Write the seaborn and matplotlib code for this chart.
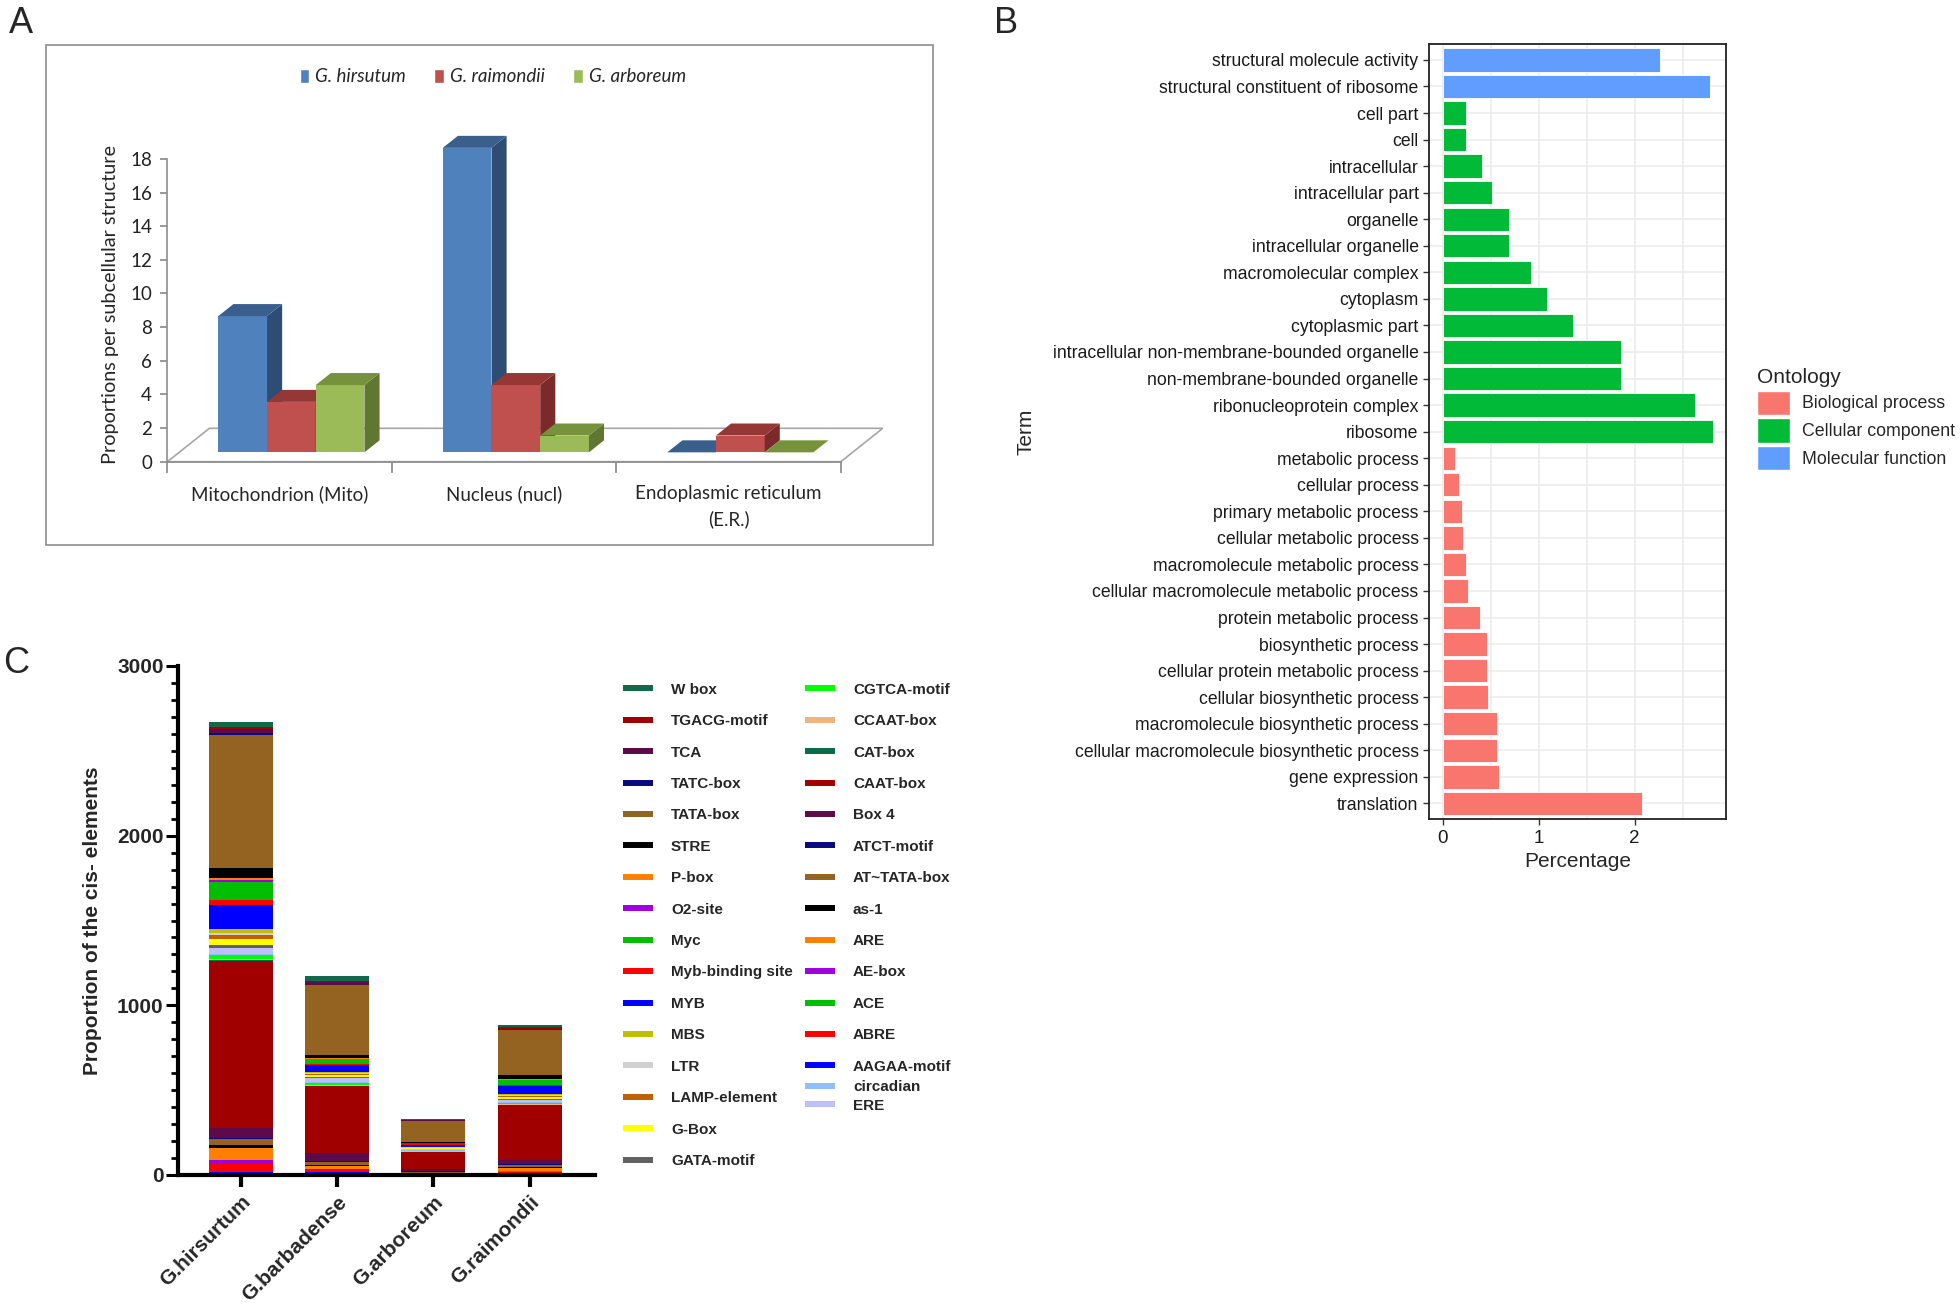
import numpy as np
import pandas as pd
import matplotlib
matplotlib.use('Agg')
import matplotlib.pyplot as plt
import seaborn as sns
from matplotlib.patches import Polygon, Patch, Rectangle
from matplotlib.lines import Line2D
from matplotlib.ticker import MultipleLocator

# ---------------- panel A: subcellular localisation ----------------
loc_names = ['Mitochondrion (Mito)', 'Nucleus (nucl)', 'Endoplasmic reticulum\n(E.R.)']
loc_species = ['G. hirsutum', 'G. raimondii', 'G. arboreum']
loc_hirsutum = [8.1, 18.1, 0.0]
loc_raimondii = [3.0, 4.0, 1.0]
loc_arboreum = [4.0, 1.0, 0.0]

# ---------------- panel B: GO terms ----------------
go_terms = [
    'structural molecule activity', 'structural constituent of ribosome',
    'cell part', 'cell', 'intracellular', 'intracellular part', 'organelle',
    'intracellular organelle', 'macromolecular complex', 'cytoplasm',
    'cytoplasmic part', 'intracellular non-membrane-bounded organelle',
    'non-membrane-bounded organelle', 'ribonucleoprotein complex', 'ribosome',
    'metabolic process', 'cellular process', 'primary metabolic process',
    'cellular metabolic process', 'macromolecule metabolic process',
    'cellular macromolecule metabolic process', 'protein metabolic process',
    'biosynthetic process', 'cellular protein metabolic process',
    'cellular biosynthetic process', 'macromolecule biosynthetic process',
    'cellular macromolecule biosynthetic process', 'gene expression', 'translation']
go_pct = [2.26, 2.78, 0.24, 0.24, 0.41, 0.51, 0.69, 0.69, 0.92, 1.09, 1.36, 1.86,
          1.86, 2.63, 2.81, 0.13, 0.17, 0.20, 0.21, 0.24, 0.27, 0.39, 0.46, 0.46,
          0.47, 0.57, 0.57, 0.59, 2.08]
go_ontology = ['Molecular function'] * 2 + ['Cellular component'] * 13 + ['Biological process'] * 14
go_levels = ['Biological process', 'Cellular component', 'Molecular function']
go_colors = ['#F8766D', '#00BA38', '#619CFF']

# ---------------- panel C: cis-elements ----------------
cis_species = ['G.hirsurtum', 'G.barbadense', 'G.arboreum', 'G.raimondii']
cis_elements = ['W box', 'TGACG-motif', 'TCA', 'TATC-box', 'TATA-box', 'STRE', 'P-box',
                'O2-site', 'Myc', 'Myb-binding site', 'MYB', 'MBS', 'LTR', 'LAMP-element',
                'G-Box', 'GATA-motif', 'CGTCA-motif', 'CCAAT-box', 'CAT-box', 'CAAT-box',
                'Box 4', 'ATCT-motif', 'AT~TATA-box', 'as-1', 'ARE', 'AE-box', 'ACE',
                'ABRE', 'AAGAA-motif', 'circadian', 'ERE']
cis_colors = ['#12694A', '#A00000', '#5C0A4A', '#0A0A80', '#946221', '#000000', '#FF8000',
              '#A000E0', '#00BF00', '#FF0000', '#0000FF', '#BFBF00', '#D0D0D0', '#C06000',
              '#FFFF00', '#606060', '#00FF00', '#F0B480', '#0B6B47', '#A00000',
              '#5C0A4A', '#0A0A80', '#946221', '#000000', '#FF8000', '#A000E0', '#00BF00',
              '#FF0000', '#0000FF', '#8CC0F8', '#C0C0F8']
cis_hirsutum = [29, 16, 24, 10, 782, 63, 8, 12, 108, 29, 143, 24, 12, 20, 39, 18, 20, 7, 7,
                982, 57, 10, 32, 20, 70, 22, 5, 42, 20, 6, 35]
cis_barbadense = [25, 10, 14, 3, 412, 16, 5, 5, 24, 10, 37, 6, 8, 6, 15, 5, 15, 4, 4,
                  395, 42, 7, 20, 3, 20, 5, 3, 12, 15, 5, 20]
cis_arboreum = [3, 3, 4, 2, 124, 5, 1, 1, 3, 3, 14, 2, 4, 2, 4, 2, 4, 1, 1,
                99, 17, 2, 5, 2, 6, 1, 1, 2, 2, 2, 6]
cis_raimondii = [10, 12, 8, 3, 265, 22, 4, 3, 30, 5, 45, 8, 5, 5, 12, 4, 7, 3, 3,
                 320, 25, 5, 12, 7, 17, 4, 3, 10, 8, 6, 14]
# stacking order, bottom to top
cis_stack = ['AAGAA-motif', 'ABRE', 'ACE', 'AE-box', 'ARE', 'as-1', 'AT~TATA-box',
             'ATCT-motif', 'Box 4', 'CAAT-box', 'CAT-box', 'CCAAT-box', 'CGTCA-motif',
             'circadian', 'ERE', 'GATA-motif', 'G-Box', 'LAMP-element', 'LTR', 'MBS',
             'MYB', 'Myb-binding site', 'Myc', 'O2-site', 'P-box', 'STRE', 'TATA-box',
             'TATC-box', 'TCA', 'TGACG-motif', 'W box']

sns.set_theme(style='white')
plt.rcParams['font.family'] = ['Liberation Sans', 'DejaVu Sans']

W, H = 1960, 1308
fig = plt.figure(figsize=(W / 100, H / 100), dpi=100)


def fx(px):
    return px / W


def fy(py):
    return 1 - py / H


def box(x0, y0, x1, y1):
    return [fx(x0), fy(y1), fx(x1) - fx(x0), fy(y0) - fy(y1)]


# ======================= panel A =======================
fontA = ['Lato', 'Liberation Sans']
fig.add_artist(Rectangle((fx(46), fy(545)), fx(933) - fx(46), fy(45) - fy(545),
                         transform=fig.transFigure, fill=False, ec='#8C8C8C', lw=1.2))
axA = fig.add_axes(box(167.4, 158.9, 840.8, 461.7))
axA.set_facecolor('none')
axA.set_xlim(-0.5, 2.5)
axA.set_ylim(0, 18)

DX, DY = 0.187, 1.985     # depth offset of the 3D floor (data units)
D0, D1 = 0.28, 0.64        # front / back depth of the columns
bw = 0.217
shades = [('#4F81BD', '#3A5F8C', '#2E4D75'),
          ('#C0504D', '#953735', '#7A2B29'),
          ('#9BBB59', '#76923C', '#5F7730')]

floor = Polygon([(-0.5, 0), (2.5, 0), (2.5 + DX, DY), (-0.5 + DX, DY)],
                closed=True, fc='white', ec='#A6A6A6', lw=1.2, zorder=1, clip_on=False)
axA.add_patch(floor)

xcat = np.arange(len(loc_names))
dd = D1 - D0
for i, vals in enumerate([loc_hirsutum, loc_raimondii, loc_arboreum]):
    front, top, side = shades[i]
    x0 = xcat - 1.5 * bw + i * bw + D0 * DX
    yb = D0 * DY
    axA.bar(x0, vals, width=bw, bottom=yb, align='edge', color=front, lw=0,
            zorder=3 + i, clip_on=False)
    for xl, v in zip(x0, vals):
        xr = xl + bw
        yt = yb + v
        axA.add_patch(Polygon([(xr, yb), (xr + dd * DX, yb + dd * DY),
                               (xr + dd * DX, yt + dd * DY), (xr, yt)],
                              closed=True, fc=side, lw=0, zorder=3 + i, clip_on=False))
        axA.add_patch(Polygon([(xl, yt), (xr, yt), (xr + dd * DX, yt + dd * DY),
                               (xl + dd * DX, yt + dd * DY)],
                              closed=True, fc=top, lw=0, zorder=3 + i, clip_on=False))

for s in ['top', 'right']:
    axA.spines[s].set_visible(False)
for s in ['left', 'bottom']:
    axA.spines[s].set_color('#8C8C8C')
    axA.spines[s].set_linewidth(1.2)
axA.set_yticks(np.arange(0, 19, 2))
axA.set_xticks([-0.5, 0.5, 1.5, 2.5])
axA.set_xticklabels([])
axA.set_xticks(xcat, minor=True)
axA.set_xticklabels(loc_names, minor=True, family=fontA, fontsize=13.5, linespacing=1.5)
axA.tick_params(axis='y', length=5, color='#8C8C8C', labelsize=13.5, pad=6,
                labelcolor='#222222', left=True)
for t in axA.get_yticklabels():
    t.set_family(fontA)
axA.tick_params(axis='x', which='major', length=8, color='#8C8C8C', bottom=True)
axA.tick_params(axis='x', which='minor', length=0, pad=17)
axA.set_ylabel('Proportions per subcellular structure', family=fontA, fontsize=14.3)
axA.yaxis.set_label_coords(-0.072, 0.52)

legA = fig.legend([Patch(fc=s[0]) for s in shades], loc_species, loc='center',
                  bbox_to_anchor=(fx(493), fy(77)), ncol=3, frameon=False,
                  prop=dict(family=fontA, style='italic', size=13.5),
                  handlelength=0.5, handleheight=0.8, handletextpad=0.35,
                  columnspacing=1.5)

# ======================= panel B =======================
axB = fig.add_axes(box(1429, 44, 1726, 819.3))
dfB = pd.DataFrame({'term': go_terms, 'pct': go_pct, 'ontology': go_ontology})
sns.barplot(data=dfB, x='pct', y='term', hue='ontology', order=go_terms,
            hue_order=go_levels, palette=dict(zip(go_levels, go_colors)),
            dodge=False, width=0.88, orient='h', errorbar=None, legend=False,
            saturation=1, edgecolor='white', linewidth=0.6, ax=axB)
mx = max(go_pct)
axB.set_xlim(-0.05 * mx, 1.05 * mx)
axB.set_ylim(len(go_terms) - 1 + 0.6, -0.6)
axB.set_xticks([0, 1, 2])
axB.set_xticks([0.5, 1.5, 2.5], minor=True)
axB.set_axisbelow(True)
axB.grid(True, which='major', color='#EBEBEB', lw=1.1)
axB.grid(True, which='minor', axis='x', color='#EBEBEB', lw=1.1)
for s in axB.spines.values():
    s.set_color('#222222')
    s.set_linewidth(1.3)
axB.tick_params(axis='both', which='major', length=4.5, width=1, color='#333333',
                labelcolor='#1a1a1a', left=True, bottom=True)
axB.tick_params(axis='y', labelsize=12.7, pad=3)
axB.tick_params(axis='x', labelsize=13.5, pad=3)
axB.tick_params(which='minor', length=0)
axB.set_xlabel('Percentage', fontsize=15, labelpad=4)
axB.set_ylabel('Term', fontsize=15)
axB.yaxis.set_label_coords((1035 - 1429) / 297, 0.5)

fig.legend([Patch(fc=c, ec='white') for c in go_colors], go_levels, title='Ontology',
           loc='upper left', bbox_to_anchor=(fx(1757), fy(368)), frameon=False,
           borderpad=0, borderaxespad=0, fontsize=12.8, title_fontsize=15,
           handlelength=1.84, handleheight=1.72, labelspacing=0.2,
           handletextpad=0.69, alignment='left')

# ======================= panel C =======================
axC = fig.add_axes(box(177.5, 666, 595, 1175))
xs = np.arange(len(cis_species))
cis_table = pd.DataFrame({'element': cis_elements,
                          cis_species[0]: cis_hirsutum, cis_species[1]: cis_barbadense,
                          cis_species[2]: cis_arboreum, cis_species[3]: cis_raimondii,
                          'color': cis_colors}).set_index('element')
bottom = np.zeros(len(cis_species))
for el in cis_stack:
    vals = cis_table.loc[el, cis_species].to_numpy(dtype=float)
    axC.bar(xs, vals, bottom=bottom, width=0.665, color=cis_table.loc[el, 'color'], lw=0)
    bottom += vals

axC.set_xlim(-0.66, 3.68)
axC.set_ylim(0, 3000)
for s in ['top', 'right']:
    axC.spines[s].set_visible(False)
for s in ['left', 'bottom']:
    axC.spines[s].set_color('black')
    axC.spines[s].set_linewidth(3)
axC.set_yticks([0, 1000, 2000, 3000])
axC.yaxis.set_minor_locator(MultipleLocator(100))
axC.tick_params(axis='y', which='major', length=8.5, width=2.2, color='black',
                labelsize=15, pad=1.5, left=True)
axC.tick_params(axis='y', which='minor', length=5, width=2, color='black', left=True)
axC.set_xticks(xs)
axC.set_xticklabels(cis_species, rotation=45, ha='right', rotation_mode='anchor')
axC.tick_params(axis='x', length=8.5, width=3, color='black', labelsize=15, pad=4,
                bottom=True)
for t in axC.get_xticklabels() + axC.get_yticklabels():
    t.set_fontweight('bold')
axC.set_ylabel('Proportion of the cis- elements', fontsize=15, fontweight='bold')
axC.yaxis.set_label_coords(-0.181, 0.5)

# legend: two columns, the last two entries squeezed below column two
handles = [Line2D([], [], color=c, lw=4.3, solid_capstyle='butt') for c in cis_colors]
legkw = dict(loc='upper left', frameon=False, borderpad=0, borderaxespad=0,
             prop=dict(weight='bold', size=11), handlelength=1.96,
             handletextpad=1.18, labelspacing=1.14)
leg1 = fig.legend(handles[:16], cis_elements[:16], bbox_to_anchor=(fx(623), fy(682.7)), **legkw)
leg2 = fig.legend(handles[16:29], cis_elements[16:29], bbox_to_anchor=(fx(805), fy(682.7)), **legkw)
legkw['labelspacing'] = 0.31
leg3 = fig.legend(handles[29:], cis_elements[29:], bbox_to_anchor=(fx(805), fy(1080)), **legkw)

# panel letters
fig.text(fx(9), fy(6), 'A', fontsize=26, ha='left', va='top')
fig.text(fx(994), fy(6), 'B', fontsize=26, ha='left', va='top')
fig.text(fx(3), fy(646), 'C', fontsize=26, ha='left', va='top')

fig.savefig('out.png', dpi=100)
